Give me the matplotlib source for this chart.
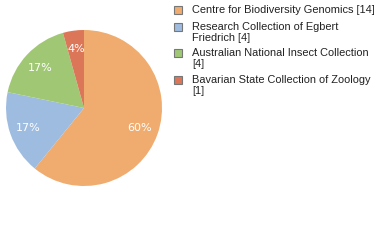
import matplotlib
matplotlib.use("Agg")
import matplotlib.pyplot as plt
from matplotlib.patches import Rectangle

labels = ["Centre for Biodiversity Genomics [14]",
          "Research Collection of Egbert\nFriedrich [4]",
          "Australian National Insect Collection\n[4]",
          "Bavarian State Collection of Zoology\n[1]"]
counts = [14, 4, 4, 1]
colors = ["#EFAC6E", "#9EBCE0", "#A0C874", "#DC7658"]

W, H = 380, 240
fig = plt.figure(figsize=(W / 100, H / 100), dpi=100)
plt.rcParams["font.family"] = ["DejaVu Sans"]

# pie: center (84,108) px, radius 78 px
ax = fig.add_axes([6 / W, (H - 186) / H, 156 / W, 156 / H])
wedges, texts, autotexts = ax.pie(counts, colors=colors, startangle=90, counterclock=False,
                                  autopct=lambda p: "%d%%" % int(p), pctdistance=0.76,
                                  wedgeprops=dict(linewidth=0))
for t in autotexts:
    t.set_color("white")
    t.set_fontsize(8)
ax.set_aspect("equal")
ax.set_xlim(-1, 1)
ax.set_ylim(-1, 1)

# legend drawn by hand
box_y = [10, 27, 53, 80]
for y, lab, c in zip(box_y, labels, colors):
    fig.patches.append(Rectangle((174 / W, (H - y - 4) / H), 8 / W, 8 / H,
                                 transform=fig.transFigure, facecolor=c,
                                 edgecolor="#777777", linewidth=0.8))
    fig.text(192 / W, (H - y + 5) / H, lab, fontsize=7.9, va="top", ha="left",
             color="#222222", linespacing=1.12, family="Liberation Sans")

fig.savefig("out.png", dpi=100)
